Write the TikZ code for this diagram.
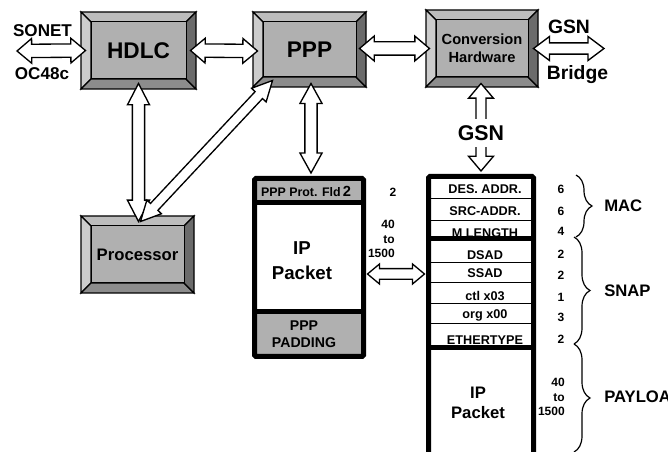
\documentclass[tikz,border=0pt]{standalone}
\usepackage{fontspec}
\setmainfont{Liberation Sans}
\usetikzlibrary{calc,decorations.pathreplacing}

\definecolor{facegray}{gray}{0.69}
\definecolor{bevtop}{gray}{0.74}
\definecolor{bevleft}{gray}{0.80}
\definecolor{bevbot}{gray}{0.55}
\definecolor{bevright}{gray}{0.42}

\tikzset{
  face/.style={draw,fill=facegray,line width=0.75pt,inner sep=0pt,align=center,font=\bfseries},
  bevel/.style={draw,line width=0.9pt,line join=miter},
  bigface/.style={font=\fontsize{17}{20}\selectfont\bfseries},
  midface/.style={font=\fontsize{12.5}{15}\selectfont\bfseries},
  smallface/.style={font=\fontsize{11}{13.5}\selectfont\bfseries},
  blockarrow/.style={draw,fill=white,line width=1pt,line join=miter},
  pktframe/.style={draw,line width=3.75pt,inner sep=0pt,rounded corners=1pt},
  divider/.style={line width=3.75pt},
  rowline/.style={line width=0.75pt},
  rowtext/.style={font=\fontsize{9.5}{11}\selectfont\bfseries,inner sep=0pt},
  numtext/.style={font=\fontsize{9}{10.7}\selectfont\bfseries,inner sep=0pt,align=right},
  lbl/.style={font=\fontsize{12.8}{15}\selectfont\bfseries,inner sep=0pt},
  gsnlbl/.style={font=\fontsize{14.5}{17}\selectfont\bfseries,inner sep=0pt},
  grptag/.style={font=\fontsize{12.5}{15}\selectfont\bfseries,inner sep=0pt,anchor=west},
  grp/.style={decorate,decoration={brace,amplitude=12pt},line width=0.9pt},
}

% raised box: options, name, outer corners x1 y1 x2 y2, text
\newcommand{\bevelbox}[7][]{%
  \filldraw[bevel,fill=bevtop] (#3,#4) -- (#5,#4) -- ({#5-10},{#4+10}) -- ({#3+10},{#4+10}) -- cycle;
  \filldraw[bevel,fill=bevleft] (#3,#4) -- ({#3+10},{#4+10}) -- ({#3+10},{#6-10}) -- (#3,#6) -- cycle;
  \filldraw[bevel,fill=bevbot] (#3,#6) -- ({#3+10},{#6-10}) -- ({#5-10},{#6-10}) -- (#5,#6) -- cycle;
  \filldraw[bevel,fill=bevright] (#5,#4) -- (#5,#6) -- ({#5-10},{#6-10}) -- ({#5-10},{#4+10}) -- cycle;
  \node[face,minimum width={(#5-#3-20)*0.75pt},minimum height={(#6-#4-20)*0.75pt},#1] (#2) at ({(#3+#5)/2},{(#4+#6)/2}) {#7};
}

% hollow double arrow: from, to, head length, head half width, shaft half width
\newcommand{\dblarrow}[5]{%
  \coordinate (ta) at (#1);
  \coordinate (tb) at (#2);
  \coordinate (ha) at ($(ta)!#3!(tb)$);
  \coordinate (hb) at ($(tb)!#3!(ta)$);
  \draw[blockarrow] (ta) -- ($(ha)!#4!90:(tb)$) -- ($(ha)!#5!90:(tb)$)
    -- ($(hb)!#5!-90:(ta)$) -- ($(hb)!#4!-90:(ta)$) -- (tb)
    -- ($(hb)!#4!90:(ta)$) -- ($(hb)!#5!90:(ta)$)
    -- ($(ha)!#5!-90:(tb)$) -- ($(ha)!#4!-90:(tb)$) -- cycle;
}

\begin{document}
\begin{tikzpicture}[x=0.75pt,y=-0.75pt]
\useasboundingbox (0,0) rectangle (668,452);

\bevelbox[bigface]{hdlc}{81}{12}{196}{89}{HDLC}
\bevelbox[bigface]{ppp}{253}{12}{366}{87}{PPP}
\bevelbox[smallface]{conv}{426}{10}{538}{87}{Conversion\\Hardware}
\bevelbox[midface]{proc}{81}{216}{194}{293}{Processor}

% PPP frame
\fill[facegray] (254.5,178.5) rectangle (363.5,202.5);
\fill[facegray] (254.5,311.5) rectangle (363.5,356.5);
\node[pktframe,minimum width={109*0.75pt},minimum height={178*0.75pt}] (pppfrm) at (309,267.5) {};
\draw[divider] (254.5,202.5) -- (363.5,202.5);
\draw[divider] (254.5,311.5) -- (363.5,311.5);
\node[font=\fontsize{9.3}{11}\selectfont\bfseries,inner sep=0pt] (protfld) at (306,191) {PPP Prot. Fld\,{\fontsize{11}{11}\selectfont 2}};
\node[font=\fontsize{14}{18.75}\selectfont\bfseries,align=center,inner sep=0pt] (ippkt) at (302,260.5) {IP\\Packet};
\node[font=\fontsize{10.6}{12.75}\selectfont\bfseries,align=center,inner sep=0pt] (padding) at (304,334) {PPP\\PADDING};
\node[numtext] (lenprot) at (393,192) {2};
\node[numtext,anchor=east] (lenip) at (395,239) {40\\to\\1500};

% GSN frame
\node[pktframe,minimum width={105*0.75pt},minimum height={293.5*0.75pt}] (snapfrm) at (481,323.25) {};
\foreach \y in {199,221,263,283,304,324}
  \draw[rowline] (428.5,\y) -- (533.5,\y);
\foreach \t/\y [count=\i] in {DES. ADDR./189,SRC-ADDR./211,M LENGTH/233.5,DSAD/255,SSAD/273,ctl x03/296,org x00/315,ETHERTYPE/340}
  \node[rowtext] (fld\i) at (485,\y) {\t};
\foreach \y in {238.5,348}
  \draw[divider] (428.5,\y) -- (533.5,\y);
\node[font=\fontsize{12.5}{15}\selectfont\bfseries,align=center,inner sep=0pt] (payload) at (478,403) {IP\\Packet};
\foreach \n/\y [count=\i] in {6/189,6/211,4/231,2/254,2/275,1/297,3/317,2/339}
  \node[numtext] (len\i) at (561,\y) {\n};
\node[numtext,anchor=east] (lenpay) at (565,397) {40\\to\\1500};

% groups
\draw[grp] (576,175) -- (576,237);
\draw[grp] (574,237) -- (574,344);
\draw[grp] (574,344) -- (574,452);
\node[grptag] (mac) at (604,206) {MAC};
\node[grptag] (snap) at (604,291) {SNAP};
\node[grptag] (pay) at (604,397) {PAYLOAD};

% links
\coordinate (sonet) at (17,51);
\coordinate (bridge) at (604,48.5);
\dblarrow{sonet}{$(hdlc.west)+(-5,0)$}{11pt}{9.3pt}{5pt}
\dblarrow{$(hdlc.east)+(4,0)$}{$(ppp.west)+(-5,1.5)$}{11pt}{9.3pt}{5pt}
\dblarrow{$(ppp.east)+(3,-1)$}{$(conv.west)+(-6,0)$}{11pt}{9.3pt}{5pt}
\dblarrow{$(conv.east)+(5,0)$}{bridge}{12pt}{9pt}{4.2pt}
\dblarrow{$(hdlc.south)+(0,4)$}{$(proc.north)+(1,-4)$}{16pt}{8.3pt}{4.6pt}
\dblarrow{$(ppp.south west)+(10,3)$}{$(proc.north)+(3,-4)$}{15pt}{7.5pt}{3.8pt}
\dblarrow{$(ppp.south)+(1.5,6)$}{$(pppfrm.north)+(2,-3)$}{15pt}{8.3pt}{4.6pt}
\dblarrow{$(conv.south)+(-1,6)$}{$(snapfrm.north)+(0,-3)$}{11pt}{9.3pt}{3.8pt}
\coordinate (pa) at ($(pppfrm.east)+(1.5,6.5)$);
\coordinate (pb) at ($(snapfrm.west |- pa)+(-1.5,0)$);
\dblarrow{pa}{pb}{9pt}{7.5pt}{4pt}

% labels
\node[lbl] (sonetlbl) at (42.5,31) {SONET};
\node[lbl] (oclbl) at (42,74) {OC48c};
\node[gsnlbl] (gsnbr) at (569,26.5) {GSN};
\node[gsnlbl] (bridgelbl) at (577.5,74.5) {Bridge};
\node[font=\fontsize{16}{19}\selectfont\bfseries,fill=white,inner xsep=2pt,inner ysep=4.5pt] (gsn) at (481,133) {GSN};
\end{tikzpicture}
\end{document}
